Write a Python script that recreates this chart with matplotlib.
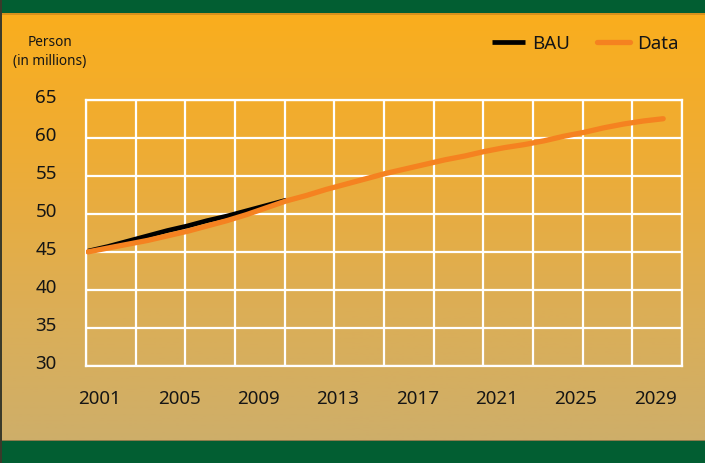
import numpy as np
import matplotlib
matplotlib.use("Agg")
import matplotlib.pyplot as plt
from matplotlib.colors import LinearSegmentedColormap
from matplotlib.transforms import ScaledTranslation

##data
years = list(range(2001, 2031))
data_vals = [45.0, 45.5, 46.0, 46.5, 47.1, 47.7, 48.4, 49.1, 49.9, 50.8,
             51.7, 52.4, 53.2, 53.9, 54.6, 55.3, 55.9, 56.5, 57.1, 57.6,
             58.2, 58.7, 59.1, 59.6, 60.2, 60.7, 61.3, 61.8, 62.2, 62.5]
bau_years = list(range(2001, 2012))
bau_vals = [45.1, 45.7, 46.4, 47.1, 47.8, 48.4, 49.1, 49.7, 50.4, 51.1, 51.8]
xtick_years = [2001, 2005, 2009, 2013, 2017, 2021, 2025, 2029]
ytick_vals = [30, 35, 40, 45, 50, 55, 60, 65]

##style
plt.rcParams['font.family'] = ['Noto Sans', 'DejaVu Sans']
plt.rcParams['font.weight'] = 'medium'
green = '#025E32'
orange = '#F58220'
txt = '#151515'

fig = plt.figure(figsize=(7.05, 4.63), dpi=100)

#background gradient + green bands
bg = fig.add_axes([0, 0, 1, 1], zorder=-10)
bg.set_axis_off()
cmap = LinearSegmentedColormap.from_list('bg', ['#CCAE6D', '#DCAE56', '#EEAC35', '#FBAE1B'])
grad = np.linspace(0, 1, 256).reshape(-1, 1)
bg.imshow(grad, aspect='auto', cmap=cmap, origin='lower', extent=[0, 1, 0, 1])
bg.set_xlim(0, 1)
bg.set_ylim(0, 1)
bg.axhspan(1 - 13 / 463, 1, color=green, lw=0)
bg.axhspan(1 - 15 / 463, 1 - 13 / 463, color='#D8901C', lw=0)
bg.axhspan(0, 22 / 463, color=green, lw=0)
bg.axhspan(22 / 463, 23.5 / 463, color='#8C7A4A', lw=0)
bg.axvspan(0, 1.5 / 705, color='#3A3A2A', lw=0)

#plot area
ax = fig.add_axes([86 / 705, 1 - 366 / 463, 596 / 705, 266.3 / 463])
ax.patch.set_alpha(0)
x0, x1 = 2000.9, 2030.95
ax.set_xlim(x0, x1)
ax.set_ylim(30, 65)

ax.plot(bau_years, bau_vals, color='black', lw=3.4, solid_capstyle='butt', label='BAU', zorder=3)
ax.plot(years, data_vals, color=orange, lw=3.8, solid_capstyle='round', solid_joinstyle='round',
        label='Data', zorder=4)

#grid
ax.set_xticks(np.linspace(x0, x1, 13), minor=True)
ax.set_yticks(ytick_vals)
ax.set_xticks(xtick_years)
ax.grid(which='minor', axis='x', color='white', lw=1.6)
ax.grid(which='major', axis='y', color='white', lw=1.6)
ax.grid(which='major', axis='x', visible=False)
for s in ax.spines.values():
    s.set_color('white')
    s.set_linewidth(1.6)
ax.tick_params(which='both', length=0)
ax.tick_params(axis='x', pad=17, labelsize=13.5, labelcolor=txt)
ax.tick_params(axis='y', pad=21, labelsize=13.5, labelcolor=txt)
for lab in ax.get_yticklabels():
    lab.set_transform(lab.get_transform() + ScaledTranslation(0, 4 / 100, fig.dpi_scale_trans))
for lab in ax.get_xticklabels():
    lab.set_transform(lab.get_transform() + ScaledTranslation(12 / 100, 0, fig.dpi_scale_trans))

#axis title
fig.text(50 / 705, 1 - 43 / 463, 'Person', ha='center', va='center', fontsize=9.8, color=txt)
fig.text(50 / 705, 1 - 62 / 463, '(in millions)', ha='center', va='center', fontsize=9.8, color=txt)

#legend
fig.legend(loc='center right', bbox_to_anchor=(679 / 705, 1 - 44 / 463), ncol=2,
           frameon=False, fontsize=13.5, handlelength=1.75, handletextpad=0.4,
           columnspacing=1.45, borderpad=0, borderaxespad=0, labelcolor=txt)

fig.savefig('out.png', dpi=100)
